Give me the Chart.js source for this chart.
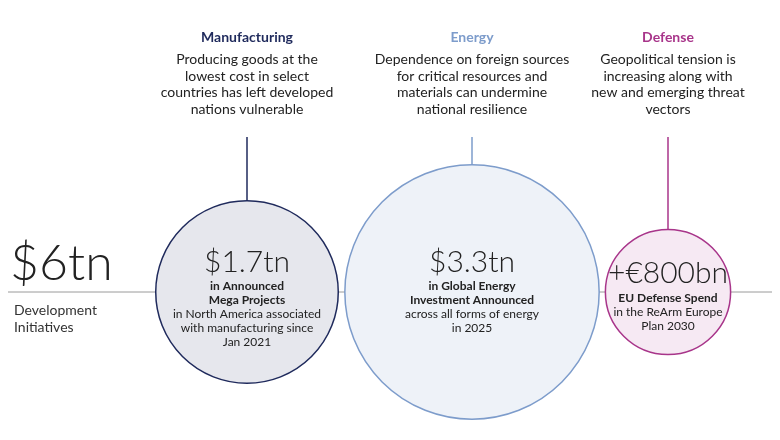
<!DOCTYPE html>
<html><head><meta charset="utf-8">
<script src="https://cdn.jsdelivr.net/npm/chart.js@4.4.1/dist/chart.umd.min.js"></script>
<style>body{margin:0;background:#fff}#wrap{width:780px;height:440px}</style>
</head><body><div id="wrap"><canvas id="myChart"></canvas></div>
<script>
const categories = ['Manufacturing', 'Energy', 'Defense'];
const valuesTn = [1.7, 3.3, 0.8];
const valueLabels = ['$1.7tn', '$3.3tn', '+€800bn'];
const boldLines = [['in Announced', 'Mega Projects'], ['in Global Energy', 'Investment Announced'], ['EU Defense Spend']];
const subLines = [['in North America associated', 'with manufacturing since', 'Jan 2021'], ['across all forms of energy', 'in 2025'], ['in the ReArm Europe', 'Plan 2030']];
const descLines = [
  ['Producing goods at the', 'lowest cost in select', 'countries has left developed', 'nations vulnerable'],
  ['Dependence on foreign sources', 'for critical resources and', 'materials can undermine', 'national resilience'],
  ['Geopolitical tension is', 'increasing along with', 'new and emerging threat', 'vectors']
];
const totalLabel = '$6tn';

const centersX = [247, 472, 668];
const strokes = ['#1f2a5c', '#7d9ccb', '#a8358a'];
const fills = ['#e6e7ed', '#eef2f8', '#f6e9f3'];
const titleColors = ['#1f2a5c', '#7d9ccb', '#a8358a'];

const textPlugin = {
  id: 'texts',
  beforeDatasetsDraw(chart) {
    const c = chart.ctx, y0 = chart.scales.y.getPixelForValue(0);
    c.save();
    c.strokeStyle = '#9a9a9a'; c.lineWidth = 1;
    c.beginPath(); c.moveTo(8, y0); c.lineTo(772, y0); c.stroke();
    const meta = chart.getDatasetMeta(0);
    meta.data.forEach((p, i) => {
      c.strokeStyle = strokes[i]; c.lineWidth = 1.5;
      c.beginPath(); c.moveTo(p.x, 137); c.lineTo(p.x, p.y - p.options.radius); c.stroke();
    });
    c.restore();
  },
  afterDatasetsDraw(chart) {
    const c = chart.ctx;
    const meta = chart.getDatasetMeta(0);
    c.save();
    c.textBaseline = 'alphabetic';
    c.fillStyle = '#222';
    c.font = '300 50px Lato';
    c.textAlign = 'left';
    c.fillText(totalLabel, 10, 280);
    c.font = '14px Lato';
    c.fillStyle = '#333';
    c.fillText('Development', 14, 315);
    c.fillText('Initiatives', 14, 332);
    c.textAlign = 'center';
    meta.data.forEach((p, i) => {
      const x = p.x;
      c.fillStyle = titleColors[i];
      c.font = 'bold 14px Lato';
      c.fillText(categories[i], x, 42);
      c.fillStyle = '#222';
      c.font = '14px Lato';
      descLines[i].forEach((t, k) => c.fillText(t, x, 64 + k * 16.5));
      c.font = '300 30px Lato';
      c.fillText(valueLabels[i], x, i === 2 ? 283 : 272);
      let y = i === 2 ? 302 : 290;
      c.font = 'bold 12px Lato';
      boldLines[i].forEach(t => { c.fillText(t, x, y); y += 14; });
      c.font = '12px Lato';
      subLines[i].forEach(t => { c.fillText(t, x, y); y += 14; });
    });
    c.restore();
  }
};

new Chart(document.getElementById('myChart'), {
  type: 'bubble',
  data: {
    labels: categories,
    datasets: [{
      data: valuesTn.map((v, i) => ({ x: centersX[i], y: 0, r: 70 * Math.sqrt(v) })),
      backgroundColor: fills,
      borderColor: strokes,
      borderWidth: 1.5,
      clip: false
    }]
  },
  options: {
    responsive: true,
    maintainAspectRatio: false,
    animation: false,
    layout: { padding: 0, autoPadding: false },
    plugins: { legend: { display: false }, tooltip: { enabled: false } },
    scales: {
      x: { type: 'linear', min: 0, max: 780, display: false },
      y: { type: 'linear', min: -148, max: 292, display: false }
    }
  },
  plugins: [textPlugin]
});
</script>
</body></html>
